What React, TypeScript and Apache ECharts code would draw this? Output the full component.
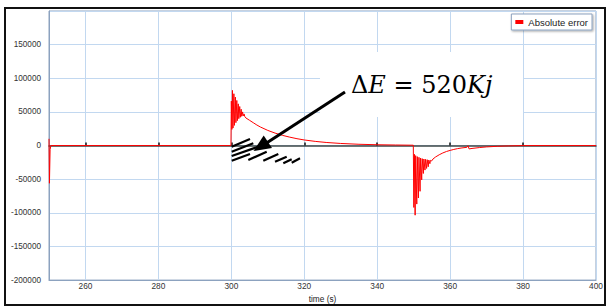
import React, { useEffect, useRef } from "react";
import * as echarts from "echarts";

// time (s)
const times = [
  250, 250.12, 250.3, 250.5, 299.9,
  300.0, 300.15, 300.3, 300.45, 300.7, 300.85, 301.1, 301.25, 301.5, 301.65,
  301.9, 302.05, 302.3, 302.45, 302.7, 302.85, 303.1, 303.25, 303.5, 303.7,
  304, 305, 306, 307, 308, 310, 312, 314, 316, 318, 320, 323, 326, 330, 335,
  340, 345, 349.9,
  350.05, 350.2, 350.4, 350.55, 350.85, 351.0, 351.3, 351.45, 351.75, 351.9,
  352.2, 352.35, 352.65, 352.8, 353.1, 353.25, 353.55, 353.7, 354.0, 354.15,
  354.45, 354.6, 354.9, 355.3, 356, 357, 358, 359, 360, 361, 362, 363, 364.6,
  364.9, 365.2, 366, 368, 370, 373, 376, 380, 400,
];

// absolute error
const errors = [
  10000, -56000, -6000, 0, 0,
  66000, 24000, 82000, 26000, 77000, 30000, 72000, 34000, 67000, 37000,
  62000, 40000, 58000, 42000, 54000, 43500, 50000, 44000, 47000, 43000,
  41000, 37500, 34000, 30500, 27500, 22500, 18500, 15200, 12500, 10200, 8300, 6200, 4600, 3100, 1900,
  1200, 800, 500,
  -92000, -13000, -103500, -15000, -87000, -16500, -78000, -17500, -68000, -18500,
  -51000, -19500, -41500, -20000, -36500, -20500, -34000, -21000, -31500, -21500,
  -27000, -22000, -23000, -20000, -17000, -13700, -11000, -8800, -7200, -5800, -4600, -3700, -2600,
  -300, -5000, -4300, -3000, -2000, -1100, -500, 0, 0,
];

const xTicks = [260, 280, 300, 320, 340, 360, 380, 400];
const seriesName = "Absolute error";

export default function App() {
  const ref = useRef<HTMLDivElement>(null);

  useEffect(() => {
    if (!ref.current) return;
    const chart = echarts.init(ref.current, null, { renderer: "svg" });
    const data = times.map((t, i) => [t, errors[i]]);
    const axisColor = "#8ca2bf";
    const gridColor = "#c2d8f0";
    const labelFont = "Liberation Sans";

    chart.setOption({
      animation: false,
      backgroundColor: "#fff",
      grid: {
        left: 49,
        top: 11,
        width: 547,
        height: 274,
        show: true,
        borderColor: axisColor,
        borderWidth: 1,
        backgroundColor: "#fff",
      },
      legend: {
        data: [seriesName],
        right: 15,
        top: 14,
        icon: "rect",
        itemWidth: 8,
        itemHeight: 4,
        padding: [3, 4, 3, 4],
        borderColor: axisColor,
        borderWidth: 1,
        backgroundColor: "#fff",
        shadowColor: "rgba(0,0,0,0.35)",
        shadowBlur: 2,
        shadowOffsetX: 1,
        shadowOffsetY: 1,
        textStyle: { fontSize: 9.5, color: "#222", fontFamily: labelFont },
      },
      xAxis: [
        {
          type: "value",
          min: 250,
          max: 400,
          position: "bottom",
          axisLine: { onZero: false, lineStyle: { color: axisColor, width: 1 } },
          axisTick: { show: false, customValues: xTicks },
          axisLabel: {
            customValues: xTicks,
            fontSize: 8.3,
            color: "#333",
            fontFamily: labelFont,
            margin: 2,
            formatter: (v: number) => String(v),
          },
          splitLine: { show: true, lineStyle: { color: gridColor, width: 1 } },
          name: "time (s)",
          nameLocation: "middle",
          nameGap: 11,
          nameTextStyle: { fontSize: 8.3, color: "#222", fontFamily: labelFont },
        },
        {
          type: "value",
          min: 250,
          max: 400,
          position: "top",
          axisLine: { onZero: true, lineStyle: { color: "#3d4747", width: 1.5 } },
          axisTick: {
            show: true,
            customValues: xTicks.slice(0, -1),
            length: 3,
            lineStyle: { color: "#111", width: 1.5 },
          },
          axisLabel: { show: false },
          splitLine: { show: false },
        },
      ],
      yAxis: {
        type: "value",
        min: -200000,
        max: 200000,
        interval: 50000,
        axisLine: { show: true, lineStyle: { color: axisColor, width: 1 } },
        axisTick: { show: false },
        axisLabel: {
          showMaxLabel: false,
          fontSize: 8.2,
          color: "#333",
          fontFamily: labelFont,
          margin: 8,
          formatter: (v: number) => String(v),
        },
        splitLine: { show: true, lineStyle: { color: gridColor, width: 1 } },
      },
      series: [
        {
          name: seriesName,
          type: "line",
          xAxisIndex: 0,
          data,
          showSymbol: false,
          symbol: "none",
          itemStyle: { color: "#ff0000" },
          lineStyle: { color: "#ff0000", width: 1 },
          z: 4,
        },
      ],
      graphic: [
        {
          type: "rect",
          z: 5,
          shape: { x: 320, y: 52, width: 203, height: 65 },
          style: { fill: "#fff" },
        },
        {
          type: "text",
          z: 6,
          x: 351,
          y: 85,
          style: {
            text: "{a|Δ}{b|E}{a| = 520}{b|Kj}",
            verticalAlign: "middle",
            rich: {
              a: { fontFamily: "DejaVu Serif", fontSize: 24, fill: "#000" },
              b: { fontFamily: "DejaVu Serif", fontSize: 24, fontStyle: "italic", fill: "#000" },
            },
          },
        },
        {
          type: "line",
          z: 10,
          shape: { x1: 345, y1: 92, x2: 265, y2: 144 },
          style: { stroke: "#000", lineWidth: 3 },
        },
        {
          type: "polygon",
          z: 10,
          shape: { points: [[253.5, 151], [272, 148], [263.7, 135.5]] },
          style: { fill: "#000" },
        },
        ...[
          [231.7, 146.7, 250, 139],
          [231.7, 151.7, 253.3, 143.3],
          [231.7, 156, 258.3, 146.7],
          [231.7, 160.7, 250, 154],
          [248.3, 160, 266.7, 151.7],
          [263.3, 160.7, 278.3, 154],
          [275, 161.7, 286.7, 156.7],
          [283.3, 163.3, 291.7, 159.3],
          [291.7, 162.7, 300, 158.3],
        ].map((s) => ({
          type: "line",
          z: 9,
          shape: { x1: s[0], y1: s[1], x2: s[2], y2: s[3] },
          style: { stroke: "#000", lineWidth: 2.2 },
        })),
        {
          type: "rect",
          z: 20,
          shape: { x: 5, y: 8, width: 600, height: 297 },
          style: { fill: "none", stroke: "#111", lineWidth: 2 },
        },
      ],
    });

    return () => chart.dispose();
  }, []);

  return (
    <div
      style={{ position: "absolute", left: 0, top: 0, width: 607, height: 308, background: "#fff" }}
    >
      <div ref={ref} style={{ width: 607, height: 308 }} />
    </div>
  );
}
